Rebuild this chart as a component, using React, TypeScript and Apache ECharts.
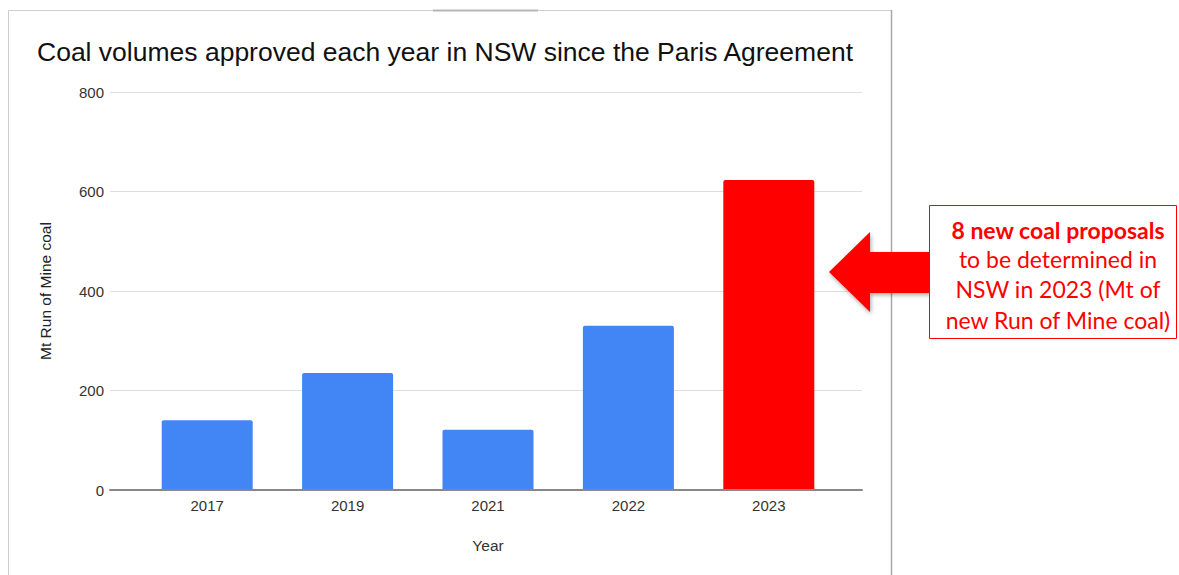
import React, { useEffect, useRef } from "react";
import * as echarts from "echarts";

const years = ["2017", "2019", "2021", "2022", "2023"];
const volumes = [140, 235, 121, 330, 623];
const barColors = ["#4285f4", "#4285f4", "#4285f4", "#4285f4", "#ff0000"];
const yTicks = { min: 0, max: 800, interval: 200 };
const titleText = "Coal volumes approved each year in NSW since the Paris Agreement";
const yAxisName = "Mt Run of Mine coal";
const xAxisName = "Year";
const noteBold = "8 new coal proposals";
const noteLines = ["to be determined in", "NSW in 2023 (Mt of", "new Run of Mine coal)"];

export default function App() {
  const ref = useRef<HTMLDivElement>(null);
  useEffect(() => {
    document.body.style.margin = "0";
    const chart = echarts.init(ref.current!, null, { renderer: "svg" });
    const font = "Arial, 'Liberation Sans', sans-serif";
    chart.setOption({
      animation: false,
      backgroundColor: "#ffffff",
      grid: [
        { left: 137, right: 340, top: 92, bottom: 85 },
        { left: 110, right: 317, top: 92, bottom: 85 },
      ],
      xAxis: [
        {
          gridIndex: 0,
          type: "category",
          data: years,
          axisLine: { show: false },
          axisTick: { show: false },
          axisLabel: { color: "#333", fontSize: 15, fontFamily: font, margin: 8 },
          name: xAxisName,
          nameLocation: "middle",
          nameGap: 47,
          nameTextStyle: { color: "#333", fontSize: 15.5, fontFamily: font },
          z: 5,
        },
        {
          gridIndex: 1,
          type: "category",
          data: [""],
          axisLine: { show: true, lineStyle: { color: "#888", width: 2 } },
          axisTick: { show: false },
          axisLabel: { show: false },
          z: 4,
        },
      ],
      yAxis: [
        {
          gridIndex: 0,
          type: "value",
          min: yTicks.min,
          max: yTicks.max,
          interval: yTicks.interval,
          show: false,
          splitLine: { show: false },
        },
        {
          gridIndex: 1,
          type: "value",
          min: yTicks.min,
          max: yTicks.max,
          interval: yTicks.interval,
          axisLine: { show: false },
          axisTick: { show: false },
          axisLabel: { color: "#333", fontSize: 15, fontFamily: font, margin: 6 },
          splitLine: { lineStyle: { color: "#dedede", width: 1 } },
          name: yAxisName,
          nameLocation: "middle",
          nameRotate: 90,
          nameGap: 57,
          nameTextStyle: { color: "#222", fontSize: 15.5, fontFamily: font },
        },
      ],
      series: [
        {
          type: "bar",
          xAxisIndex: 0,
          yAxisIndex: 0,
          barWidth: 91,
          z: 3,
          data: volumes.map((v, i) => ({
            value: v,
            itemStyle: { color: barColors[i], borderRadius: [2, 2, 0, 0] },
          })),
        },
      ],
      graphic: [
        {
          type: "rect",
          shape: { x: 8.5, y: 10.5, width: 883, height: 600 },
          style: { fill: "none", stroke: "#cfcfcf", lineWidth: 1 },
          z: 1,
        },
        {
          type: "line",
          shape: { x1: 891.5, y1: 10, x2: 891.5, y2: 575 },
          style: { stroke: "#a8a8a8", lineWidth: 1.5 },
          z: 2,
        },
        {
          type: "line",
          shape: { x1: 433, y1: 10.5, x2: 538, y2: 10.5 },
          style: { stroke: "#b5b5b5", lineWidth: 2 },
          z: 2,
        },
        {
          type: "text",
          x: 37,
          y: 52,
          style: {
            text: titleText,
            fill: "#111",
            font: "26.5px Arial, 'Liberation Sans', sans-serif",
            textVerticalAlign: "middle",
          },
          z: 5,
        },
        {
          type: "polygon",
          shape: {
            points: [
              [829, 272],
              [870, 232],
              [870, 252],
              [931, 252],
              [931, 293],
              [870, 293],
              [870, 312],
            ],
          },
          style: {
            fill: "#ff0000",
            shadowBlur: 4,
            shadowColor: "rgba(0,0,0,0.35)",
            shadowOffsetX: 1,
            shadowOffsetY: 2,
          },
          z: 6,
        },
        {
          type: "rect",
          shape: { x: 929.5, y: 205.5, width: 247, height: 133 },
          style: { fill: "#ffffff", stroke: "#ff0000", lineWidth: 1 },
          z: 7,
        },
        {
          type: "text",
          x: 1058,
          y: 230,
          style: {
            text: noteBold,
            fill: "#ff0000",
            font: "bold 23px Lato, 'Open Sans', sans-serif",
            textAlign: "center",
            textVerticalAlign: "middle",
          },
          z: 8,
        },
        ...noteLines.map((t, i) => ({
          type: "text",
          x: 1058,
          y: 259 + i * 30.3,
          style: {
            text: t,
            fill: "#ff0000",
            font: "23px Lato, 'Open Sans', sans-serif",
            textAlign: "center",
            textVerticalAlign: "middle",
          },
          z: 8,
        })),
      ],
    });
    return () => chart.dispose();
  }, []);
  return <div ref={ref} style={{ width: 1179, height: 575 }} />;
}
